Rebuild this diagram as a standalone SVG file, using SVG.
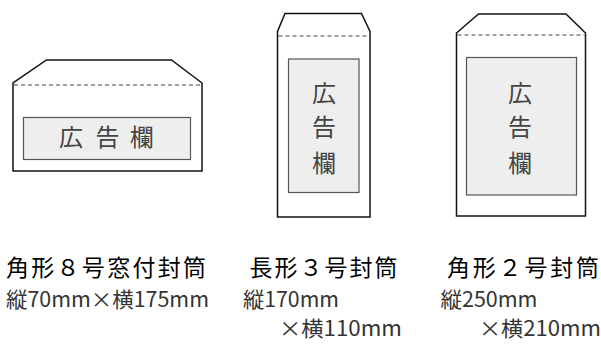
<svg xmlns="http://www.w3.org/2000/svg" width="601" height="345" viewBox="0 0 601 345">
<style>
.env{fill:#fff;stroke:#111;stroke-width:1.5;stroke-linejoin:miter}
.dash{stroke:#444;stroke-width:1;stroke-dasharray:4 3;fill:none}
.ad{fill:#eeeeee;stroke:#555;stroke-width:1.2}
.adt{font-family:"Noto Sans CJK JP","Noto Sans",sans-serif;font-size:24px;fill:#444;text-anchor:middle}
.t1{font-family:"Noto Sans CJK JP","Noto Sans",sans-serif;font-size:23px;fill:#000}
.t2{font-family:"Noto Sans CJK JP","Noto Sans",sans-serif;font-size:21px;fill:#333}
</style>
<rect width="601" height="345" fill="#fff"/>
<g id="env1">
<path class="env" d="M13,171 L13,83 L46.5,60 L171.5,60 L202,83 L202,171 Z"/>
<line class="dash" x1="14" y1="85" x2="201" y2="85"/>
<rect class="ad" x="23.5" y="117.5" width="167" height="42"/>
<text class="adt" x="71" y="145.7">広</text>
<text class="adt" x="107.5" y="145.7">告</text>
<text class="adt" x="141.7" y="145.7">欄</text>
</g>
<g id="env2">
<path class="env" d="M277.5,217 L277.5,31.5 L285,13.5 L361.5,13.5 L370,31.5 L370,217 Z"/>
<line class="dash" x1="278.5" y1="36" x2="369" y2="36"/>
<rect class="ad" x="288.5" y="59" width="70.5" height="133.5"/>
<text class="adt" x="324" y="102.3">広</text>
<text class="adt" x="324" y="135.7">告</text>
<text class="adt" x="324" y="172.3">欄</text>
</g>
<g id="env3">
<path class="env" d="M456.5,216 L456.5,33 L478.5,14 L566,14 L585.5,33 L585.5,216 Z"/>
<line class="dash" x1="457.5" y1="35" x2="584.5" y2="35"/>
<rect class="ad" x="466.5" y="57.5" width="110" height="137.5"/>
<text class="adt" x="520" y="102.3">広</text>
<text class="adt" x="520" y="135.7">告</text>
<text class="adt" x="520" y="172.3">欄</text>
</g>
<g id="labels">
<text class="t1" x="6" y="276" textLength="200" lengthAdjust="spacing">角形８号窓付封筒</text>
<text class="t2" x="6" y="307" textLength="203" lengthAdjust="spacingAndGlyphs">縦70mm×横175mm</text>
<text class="t1" x="249.5" y="276" textLength="148" lengthAdjust="spacing">長形３号封筒</text>
<text class="t2" x="243" y="307" textLength="96" lengthAdjust="spacingAndGlyphs">縦170mm</text>
<text class="t2" x="279" y="336" textLength="123" lengthAdjust="spacingAndGlyphs">×横110mm</text>
<text class="t1" x="447" y="276" textLength="152" lengthAdjust="spacing">角形２号封筒</text>
<text class="t2" x="440.5" y="307" textLength="97" lengthAdjust="spacingAndGlyphs">縦250mm</text>
<text class="t2" x="479" y="336" textLength="122" lengthAdjust="spacingAndGlyphs">×横210mm</text>
</g>
</svg>
